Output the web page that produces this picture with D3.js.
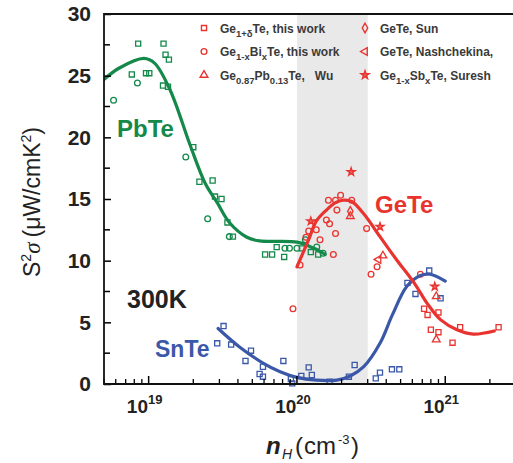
<!DOCTYPE html>
<html><head><meta charset="utf-8">
<script src="https://cdn.jsdelivr.net/npm/d3@7"></script>
<style>
html,body{margin:0;padding:0;background:#fff;}
svg{display:block;}
text{font-family:"Liberation Sans",Arial,sans-serif;}
</style></head>
<body>
<script>
// ---------- data ----------
const yTicks = [0,5,10,15,20,25,30];
const xTickLabels = [{v:1e19,e:"19"},{v:1e20,e:"20"},{v:1e21,e:"21"}];
const band = [1e20, 3e20];

const pbteCurve = [[4.9e18,24.6],[6.3e18,25.6],[9.3e18,26.4],[1.1e19,26.0],[1.4e19,23.8],[1.9e19,19.4],[2.4e19,16.3],[2.9e19,14.7],[3.5e19,13.1],[4.6e19,11.9],[5.6e19,11.6],[1.0e20,11.5],[1.3e20,11.0],[1.55e20,10.5]];
const pbteSquares = [[8.5e18,27.6],[1.26e19,27.6],[1.3e19,26.7],[1.37e19,26.3],[7.7e18,25.1],[9.6e18,25.2],[1.01e19,25.2],[1.25e19,24.2],[1.35e19,24.1],[2.0e19,19.2],[2.2e19,16.4],[2.7e19,16.5],[2.8e19,15.2],[3.1e19,15.0],[3.4e19,13.1],[3.7e19,11.95],[6.1e19,10.5],[6.8e19,10.5],[7.3e19,11.1],[8.2e19,10.3],[1.08e20,11.0],[1.24e20,10.7],[1.39e20,10.5]];
const pbteCircles = [[8.4e18,24.4],[5.8e18,23.0],[1.78e19,18.4],[2.5e19,13.4],[3.5e19,11.95],[8.9e19,11.0],[1.14e20,11.7],[1.36e20,11.1],[1.0e20,11.0],[1.5e20,10.6],[8.3e19,11.0]];

const geteCurve = [[1.0e20,9.5],[1.2e20,11.7],[1.35e20,13.2],[1.58e20,14.1],[1.82e20,14.7],[2.04e20,14.9],[2.34e20,14.8],[2.82e20,13.8],[3.63e20,11.95],[4.68e20,10.1],[6.17e20,8.2],[7.59e20,6.5],[9.33e20,5.2],[1.2e21,4.4],[1.55e21,4.05],[2.14e21,4.3]];
const geteSquares = [[7.2e20,6.1],[7.6e20,5.6],[9.0e20,5.8],[8.0e20,4.4],[9.0e20,4.2],[1.12e21,3.35],[1.26e21,4.6],[2.29e21,4.6]];
const geteCircles = [[1.63e20,14.9],[1.97e20,15.3],[1.82e20,14.9],[2.34e20,14.9],[1.86e20,14.1],[1.58e20,13.3],[1.66e20,13.0],[1.2e20,12.4],[1.35e20,12.5],[1.82e20,12.2],[1.15e20,11.9],[1.43e20,11.7],[2.95e20,12.6],[1.05e20,9.65],[1.76e20,10.5],[9.4e19,6.1],[3.47e20,9.5],[3.16e20,8.9],[6.8e20,8.9]];
const geteTriangles = [[2.29e20,13.6],[3.8e20,10.4],[8.7e20,7.1],[8.7e20,3.6]];
const geteDiamonds = [[2.29e20,14.0]];
const geteLeftTri = [[3.55e20,10.1]];
const geteStars = [[2.32e20,17.2],[1.24e20,13.2],[3.63e20,12.75],[8.5e20,7.9]];

const snteCurve = [[2.94e19,4.5],[4.1e19,3.0],[5.9e19,1.7],[7.7e19,1.0],[1.0e20,0.54],[1.35e20,0.32],[1.86e20,0.32],[2.29e20,0.65],[2.82e20,1.4],[3.63e20,3.3],[4.4e20,5.6],[5.5e20,7.9],[6.8e20,8.8],[7.9e20,8.9],[1.0e21,8.35]];
const snteSquares = [[3.2e19,4.7],[2.9e19,3.3],[3.6e19,3.2],[4.9e19,2.7],[4.5e19,1.87],[5.9e19,1.4],[8.1e19,1.87],[5.6e19,0.81],[5.9e19,0.59],[9.1e19,0.4],[9.3e19,0.05],[1.07e20,0.65],[1.2e20,1.35],[1.26e20,0.73],[1.66e20,0.19],[2.24e20,0.59],[2.45e20,1.54],[3.4e20,0.46],[3.63e20,0.92],[4.37e20,1.19],[4.9e20,1.19],[5.56e20,8.2],[7.8e20,9.2],[6.3e20,7.3],[9.3e20,6.95]];

const legendCol1 = [
  {shape:"square", parts:[["Ge"],["1+δ","sub"],["Te, this work"]]},
  {shape:"circle", parts:[["Ge"],["1-x","sub"],["Bi"],["x","sub"],["Te, this work"]]},
  {shape:"triangle", parts:[["Ge"],["0.87","sub"],["Pb"],["0.13","sub"],["Te,   Wu"]]}
];
const legendCol2 = [
  {shape:"diamond", parts:[["GeTe, Sun"]]},
  {shape:"lefttri", parts:[["GeTe, Nashchekina,"]]},
  {shape:"star", parts:[["Ge"],["1-x","sub"],["Sb"],["x","sub"],["Te, Suresh"]]}
];

// ---------- layout ----------
const W=513,H=463;
const L=104,R=516,T=14,B=384;
const green="#14894a", red="#e8332f", blue="#3b58a8";

const svg=d3.select("body").append("svg").attr("width",W).attr("height",H);
const x=d3.scaleLog().domain([5e18,3e21]).range([L,R]);
const y=d3.scaleLinear().domain([0,30]).range([B,T]);

svg.append("defs").append("clipPath").attr("id","clip").append("rect")
  .attr("x",L).attr("y",T).attr("width",R-L).attr("height",B-T);

// band
svg.append("rect").attr("x",x(band[0])).attr("y",T).attr("width",x(band[1])-x(band[0])).attr("height",B-T)
  .attr("fill","#e9e9e9");

const sym = {
  square: d3.symbol().type(d3.symbolSquare).size(26),
  circle: d3.symbol().type(d3.symbolCircle).size(26),
  triangle: d3.symbol().type(d3.symbolTriangle).size(26),
  diamond: d3.symbol().type(d3.symbolDiamond).size(26),
  lefttri: d3.symbol().type(d3.symbolTriangle).size(26),
  star: d3.symbol().type(d3.symbolStar).size(20)
};
function drawPts(data,shape,color){
  svg.append("g").selectAll("path").data(data).join("path")
    .attr("d",sym[shape]())
    .attr("transform",d=>`translate(${x(d[0])},${y(d[1])})`+(shape==="lefttri"?" rotate(-90)":""))
    .attr("fill",shape==="star"?color:"none").attr("fill-opacity",shape==="star"?0.75:1)
    .attr("stroke",color).attr("stroke-width",1.3);
}
const line=d3.line().x(d=>x(d[0])).y(d=>y(d[1])).curve(d3.curveCatmullRom.alpha(0.5));
function drawCurve(data,color){
  svg.append("path").datum(data).attr("d",line).attr("fill","none")
    .attr("stroke",color).attr("stroke-width",3.2).attr("clip-path","url(#clip)").attr("stroke-linecap","round");
}

drawPts(pbteSquares,"square",green);
drawPts(pbteCircles,"circle",green);
drawPts(snteSquares,"square",blue);
drawPts(geteSquares,"square",red);
drawPts(geteCircles,"circle",red);
drawPts(geteTriangles,"triangle",red);
drawPts(geteDiamonds,"diamond",red);
drawPts(geteLeftTri,"lefttri",red);
drawPts(geteStars,"star",red);
drawCurve(pbteCurve,green);
drawCurve(snteCurve,blue);
drawCurve(geteCurve,red);

// axes
const yAxis=svg.append("g").attr("transform",`translate(${L},0)`)
  .call(d3.axisLeft(y).tickValues(yTicks).tickSize(-7).tickPadding(13).tickFormat(d3.format("d")));
yAxis.select(".domain").remove();
yAxis.selectAll(".tick line").attr("stroke","#000").attr("stroke-width",1.5);
yAxis.selectAll("text").attr("font-size",21).attr("font-weight","bold").attr("fill","#222").attr("font-family","'Liberation Sans',Arial");
const yMinor=d3.range(2.5,30,5);
svg.append("g").selectAll("line").data(yMinor).join("line")
  .attr("x1",L).attr("x2",L+6).attr("y1",d=>y(d)).attr("y2",d=>y(d)).attr("stroke","#000").attr("stroke-width",1.5);

// x ticks
const xMajor=[1e19,1e20,1e21];
const xMinorVals=[];
[1e18,1e19,1e20,1e21].forEach(dec=>{for(let k=2;k<=9;k++){const v=dec*k;if(v>=5e18&&v<=3e21)xMinorVals.push(v);}});
svg.append("g").selectAll("line").data(xMajor).join("line")
  .attr("x1",d=>x(d)).attr("x2",d=>x(d)).attr("y1",B).attr("y2",B-8).attr("stroke","#000").attr("stroke-width",1.5);
svg.append("g").selectAll("line").data(xMinorVals).join("line")
  .attr("x1",d=>x(d)).attr("x2",d=>x(d)).attr("y1",B).attr("y2",B-5).attr("stroke","#000").attr("stroke-width",1.3);
const xl=svg.append("g").selectAll("text").data(xTickLabels).join("text")
  .attr("x",d=>x(d.v)-4).attr("y",413).attr("text-anchor","middle")
  .attr("font-size",19).attr("font-weight","bold").attr("fill","#222");
xl.append("tspan").text("10");
xl.append("tspan").attr("dy",-9).attr("font-size",13).text(d=>d.e);

// frame
svg.append("line").attr("x1",L).attr("x2",R).attr("y1",T).attr("y2",T).attr("stroke","#111").attr("stroke-width",2.2);
svg.append("line").attr("x1",L).attr("x2",L).attr("y1",T-1).attr("y2",B+1).attr("stroke","#111").attr("stroke-width",1.8);
svg.append("line").attr("x1",L).attr("x2",R).attr("y1",B).attr("y2",B).attr("stroke","#111").attr("stroke-width",1.8);

// y title
const yt=svg.append("text").attr("transform","translate(40,202) rotate(-90)").attr("text-anchor","middle")
  .attr("font-size",23).attr("fill","#222");
yt.append("tspan").text("S");
yt.append("tspan").attr("dy",-9).attr("font-size",14).text("2");
yt.append("tspan").attr("dy",9).attr("font-family","'Liberation Serif',serif").attr("font-style","italic").text("σ");
yt.append("tspan").attr("dx",5).text("(μW/cmK");
yt.append("tspan").attr("dy",-9).attr("font-size",14).text("2");
yt.append("tspan").attr("dy",9).text(")");

// x title (separate pieces)
const xg=svg.append("g").attr("fill","#222");
xg.append("text").attr("x",266).attr("y",454).attr("font-size",24).attr("font-style","italic").attr("font-weight","bold").text("n");
xg.append("text").attr("x",282).attr("y",459).attr("font-size",14).attr("font-style","italic").text("H");
xg.append("text").attr("x",295).attr("y",454).attr("font-size",24).attr("font-family","'DejaVu Serif','Liberation Serif',serif").text("(");
xg.append("text").attr("x",304).attr("y",454).attr("font-size",24).attr("font-family","'Liberation Serif',serif").text("cm");
xg.append("text").attr("x",338).attr("y",444).attr("font-size",13).attr("font-family","'Liberation Serif',serif").text("-3");
xg.append("text").attr("x",351).attr("y",454).attr("font-size",24).attr("font-family","'Liberation Serif',serif").text(")");

// labels
svg.append("text").attr("x",117).attr("y",137).attr("font-size",24).attr("font-weight","bold").attr("fill",green).text("PbTe");
svg.append("text").attr("x",375).attr("y",213).attr("font-size",24).attr("font-weight","bold").attr("fill",red).text("GeTe");
svg.append("text").attr("x",155).attr("y",357).attr("font-size",23).attr("font-weight","bold").attr("fill",blue).text("SnTe");
svg.append("text").attr("x",127).attr("y",308).attr("font-size",25).attr("font-weight","bold").attr("font-family","'Liberation Serif',serif").attr("fill","#222").text("300K");

// legend
function legendCol(items,sx,tx){
  items.forEach((it,i)=>{
    const cy=28+i*23.5;
    svg.append("path").attr("d",sym[it.shape]())
      .attr("transform",`translate(${sx},${cy})`+(it.shape==="lefttri"?" rotate(-90)":""))
      .attr("fill",it.shape==="star"?red:"none").attr("fill-opacity",it.shape==="star"?0.75:1)
      .attr("stroke",red).attr("stroke-width",1.4);
    const t=svg.append("text").attr("x",tx).attr("y",cy+4.5).attr("font-size",12).attr("font-weight","bold").attr("fill","#3a3a3a").attr("xml:space","preserve");
    let shifted=false;
    it.parts.forEach(p=>{
      const s=t.append("tspan").text(p[0]);
      if(p[1]==="sub"){ s.attr("font-size",9.5); if(!shifted){s.attr("dy",4);shifted=true;} }
      else if(shifted){ s.attr("dy",-4); shifted=false; }
    });
  });
}
legendCol(legendCol1,204,220);
legendCol(legendCol2,365,380);
</script>
</body></html>
